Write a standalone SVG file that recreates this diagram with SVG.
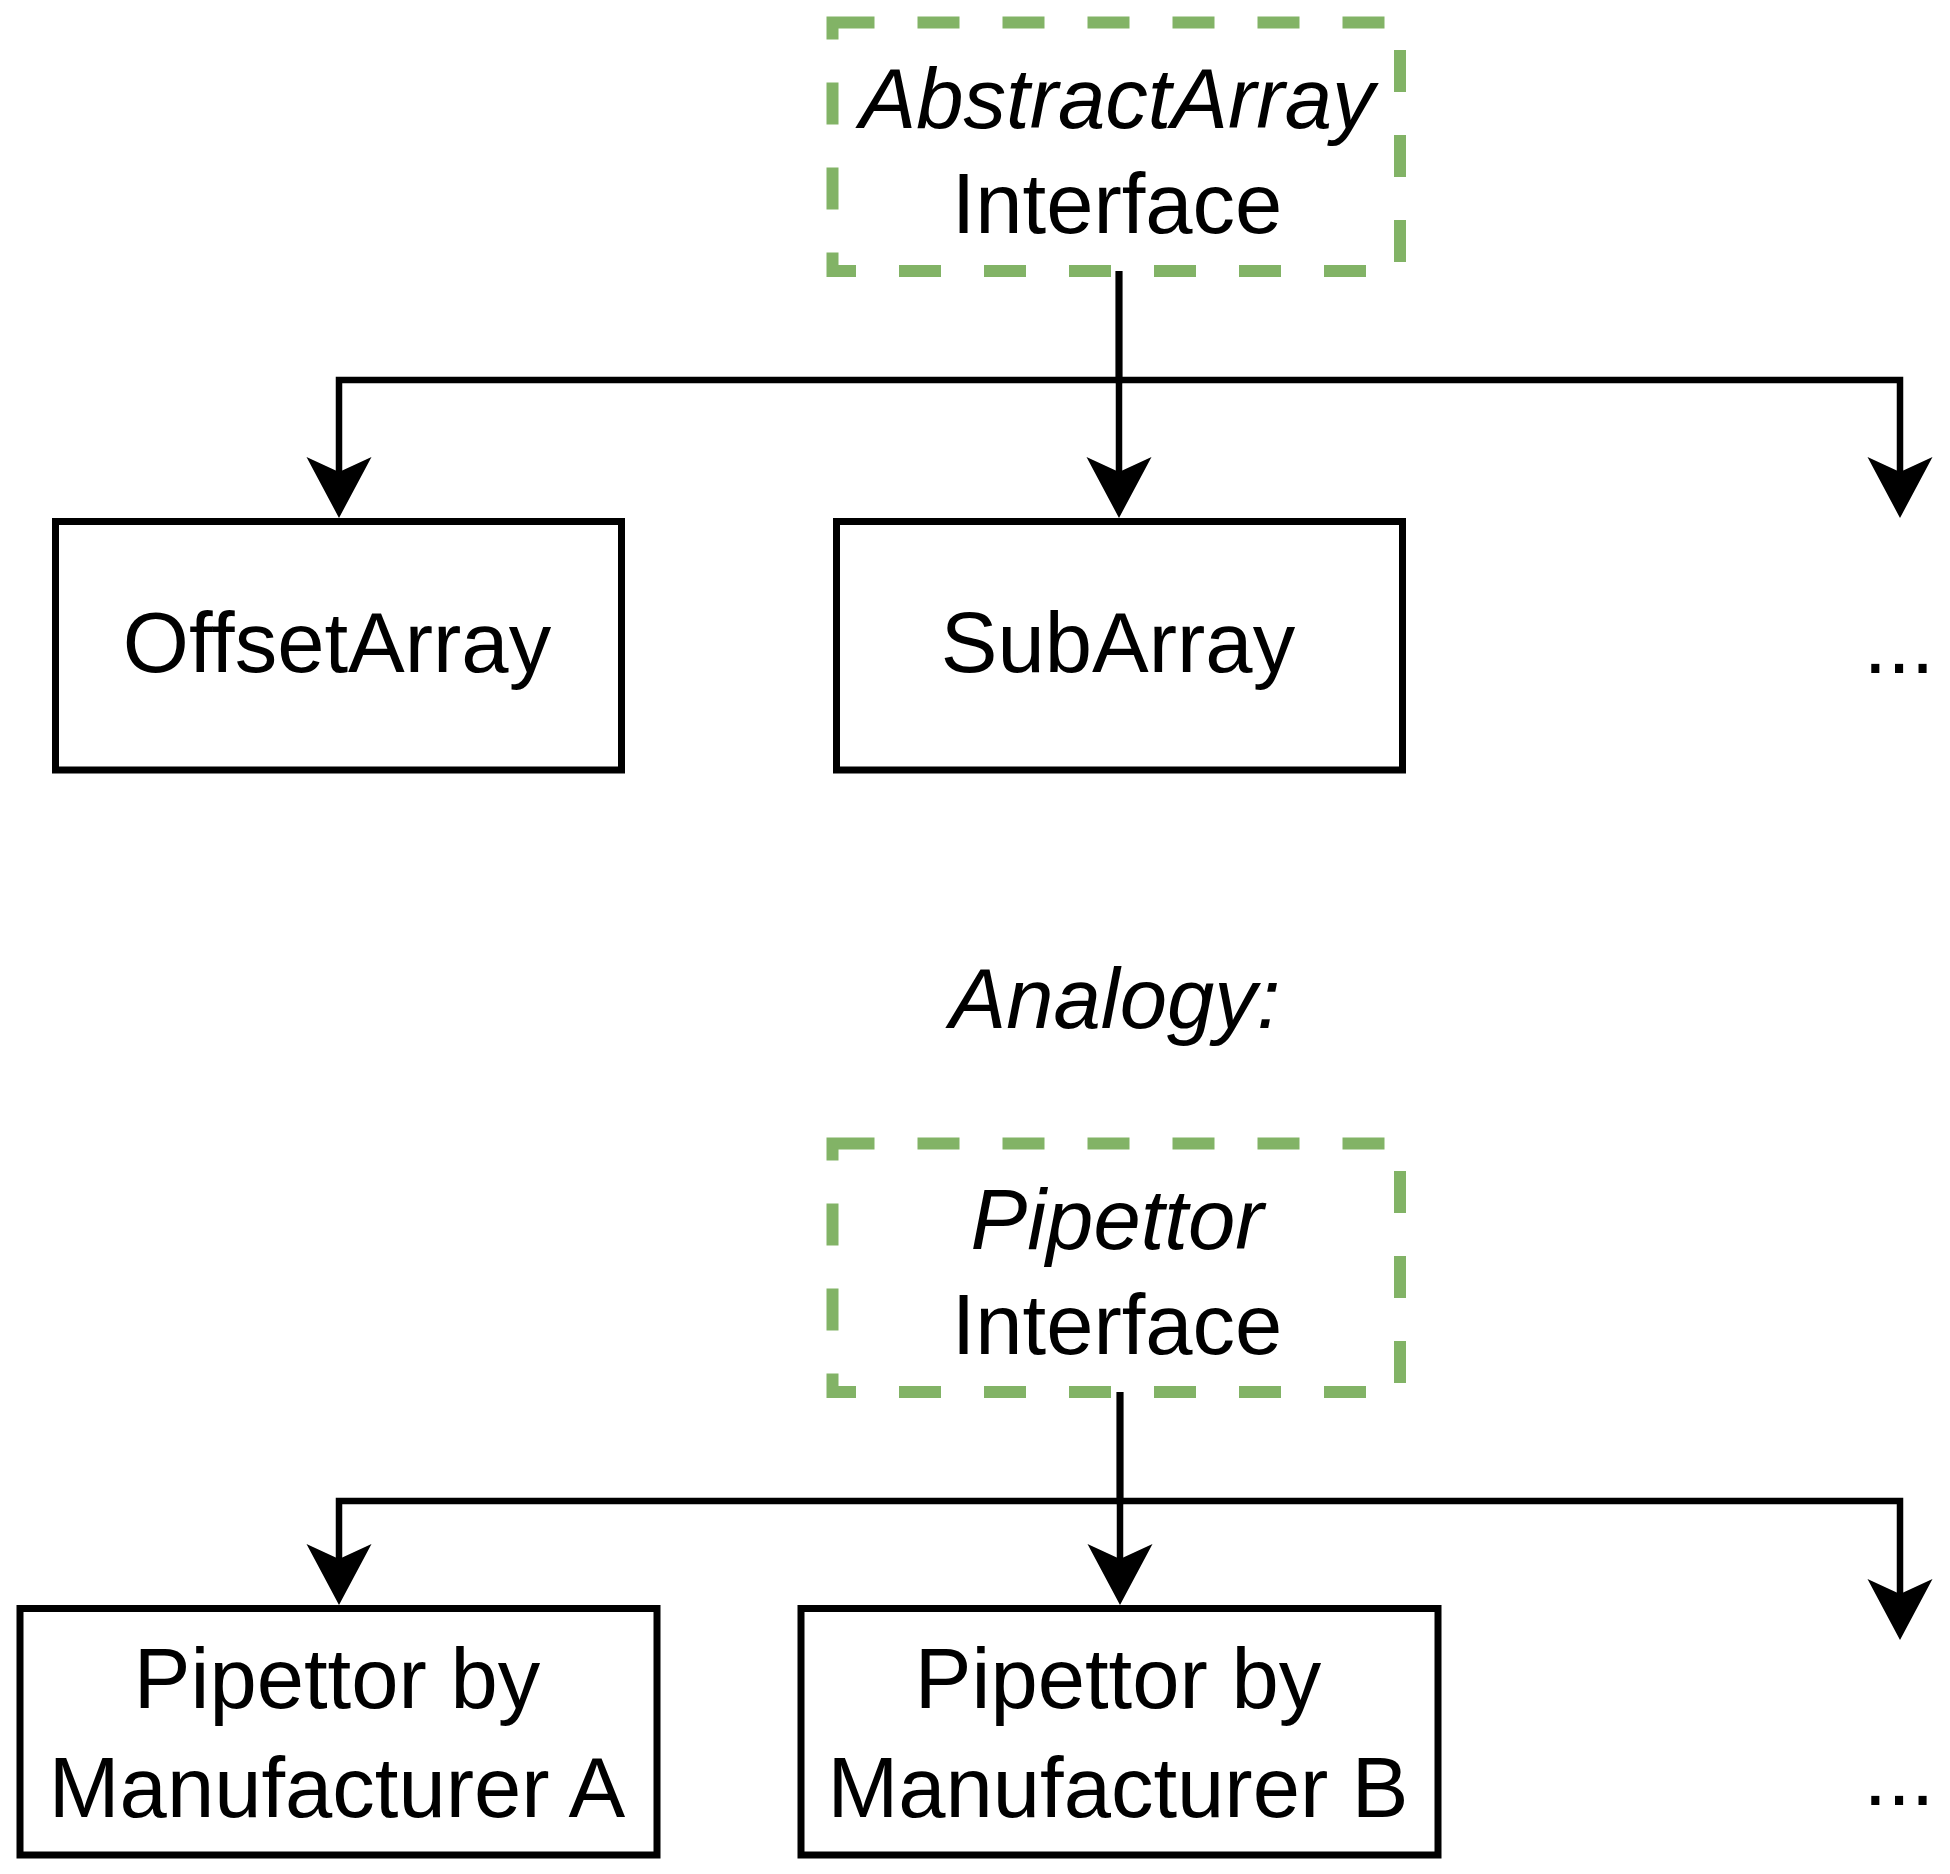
<svg xmlns="http://www.w3.org/2000/svg" width="1950" height="1874" viewBox="0 0 1950 1874">
  <defs>
    <style>
      .iface { fill: #ffffff; stroke: #82b366; stroke-width: 12; stroke-dasharray: 42 43; }
      .box { fill: #ffffff; stroke: #000000; stroke-width: 7; }
      .edge { fill: none; stroke: #000000; stroke-width: 6.5; stroke-linejoin: miter; marker-end: url(#arr); }
      .t { font-family: "Liberation Sans", Arial, Helvetica, sans-serif; font-size: 85px; fill: #000000; text-anchor: middle; }
      .i { font-style: italic; }
    </style>
    <marker id="arr" markerUnits="userSpaceOnUse" markerWidth="70" markerHeight="70" viewBox="0 -35 70 70" refX="15" refY="0" orient="auto">
      <path d="M61,0 L0,-32.5 L15,0 L0,32.5 Z" fill="#000000"/>
    </marker>
  </defs>
  <rect width="1950" height="1874" fill="#ffffff"/>

  <g id="connectors">
    <path class="edge" d="M1119,271 V472"/>
    <path class="edge" d="M1119,271 V380 H339 V472"/>
    <path class="edge" d="M1119,271 V380 H1900 V472"/>
    <path class="edge" d="M1120,1392 V1559"/>
    <path class="edge" d="M1120,1392 V1501 H339 V1559"/>
    <path class="edge" d="M1120,1392 V1501 H1900 V1594"/>
  </g>

  <g id="abstractarray">
    <rect class="iface" x="832.5" y="22.5" width="567.5" height="248.5"/>
    <text class="t i" x="1117" y="128">AbstractArray</text>
    <text class="t" x="1117" y="233">Interface</text>
  </g>

  <g id="offsetarray">
    <rect class="box" x="55.5" y="521.5" width="566" height="248.5"/>
    <text class="t" x="337" y="672">OffsetArray</text>
  </g>

  <g id="subarray">
    <rect class="box" x="836.5" y="521.5" width="566" height="248.5"/>
    <text class="t" x="1118" y="672">SubArray</text>
  </g>

  <g id="more1">
    <text class="t" x="1899" y="673">...</text>
  </g>

  <g id="analogy">
    <text class="t i" x="1115" y="1028">Analogy:</text>
  </g>

  <g id="pipettor">
    <rect class="iface" x="832.5" y="1143.5" width="567.5" height="248.5"/>
    <text class="t i" x="1117" y="1249">Pipettor</text>
    <text class="t" x="1117" y="1354">Interface</text>
  </g>

  <g id="manufacturerA">
    <rect class="box" x="20" y="1608.5" width="637" height="246.5"/>
    <text class="t" x="337" y="1708">Pipettor by</text>
    <text class="t" x="337" y="1817">Manufacturer A</text>
  </g>

  <g id="manufacturerB">
    <rect class="box" x="801" y="1608.5" width="637" height="246.5"/>
    <text class="t" x="1118" y="1708">Pipettor by</text>
    <text class="t" x="1118" y="1817">Manufacturer B</text>
  </g>

  <g id="more2">
    <text class="t" x="1899" y="1805">...</text>
  </g>
</svg>
